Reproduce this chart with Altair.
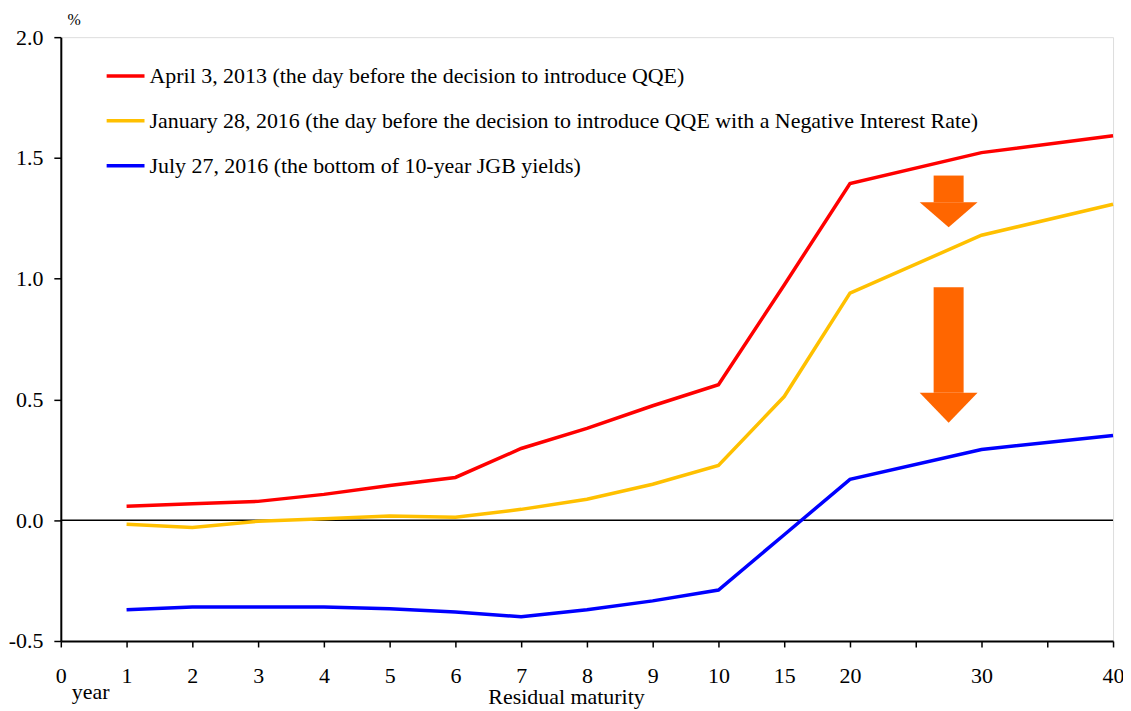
import altair as alt
import pandas as pd

maturity = [1, 2, 3, 4, 5, 6, 7, 8, 9, 10, 15, 20, 30, 40]
apr2013 = [0.058, 0.068, 0.078, 0.107, 0.144, 0.177, 0.297, 0.380, 0.474, 0.561, 0.974, 1.394, 1.522, 1.592]
jan2016 = [-0.017, -0.030, -0.004, 0.006, 0.017, 0.012, 0.045, 0.087, 0.149, 0.227, 0.512, 0.940, 1.180, 1.308]
jul2016 = [-0.371, -0.359, -0.359, -0.359, -0.367, -0.380, -0.400, -0.371, -0.334, -0.289, -0.060, 0.169, 0.293, 0.351]

series_names = [
    "April 3, 2013 (the day before the decision to introduce QQE)",
    "January 28, 2016 (the day before the decision to introduce QQE with a Negative Interest Rate)",
    "July 27, 2016 (the bottom of 10-year JGB yields)",
]
series_colors = ["#FF0000", "#FFC000", "#0000FF"]

x_ticks = [0, 1, 2, 3, 4, 5, 6, 7, 8, 9, 10, 15, 20, 25, 30, 35, 40]
y_ticks = [-0.5, 0.0, 0.5, 1.0, 1.5, 2.0]

# arrows (annotation): center x, top of shaft, bottom of shaft, tip
arrow_x = [27.5, 27.5]
arrow_top = [1.427, 0.965]
arrow_neck = [1.316, 0.528]
arrow_tip = [1.213, 0.404]
shaft_half = 1.14
head_half = 2.2

FONT = "Liberation Serif"
FS = 22
W, H = 1056, 606

rows = []
for name, vals in zip(series_names, [apr2013, jan2016, jul2016]):
    for m, v in zip(maturity, vals):
        rows.append({"maturity": m, "yield": v, "series": name})
df = pd.DataFrame(rows)

xscale = alt.Scale(domain=[0, 10, 20, 40], range=[0, 660, 792, 1056], nice=False, zero=False)
yscale = alt.Scale(domain=[-0.5, 2.0], nice=False, zero=False)

x_axis = alt.Axis(
    values=x_ticks, labelExpr="(datum.value == 25 || datum.value == 35) ? '' : datum.label",
    grid=False, domainColor="black", domainWidth=2, tickColor="black", tickSize=6, tickWidth=1.5,
    labelFont=FONT, labelFontSize=FS, labelColor="black", labelPadding=19, labelFlush=False,
    labelOverlap=False,
    title="Residual maturity", titleFont=FONT, titleFontSize=FS, titleFontWeight="normal",
    titleColor="black", titleX=507, titleY=56, titleAlign="center", titleBaseline="middle",
)
y_axis = alt.Axis(
    values=y_ticks,
    labelExpr="datum.value < 0 ? '-' + format(-datum.value, '.1f') : format(datum.value, '.1f')",
    grid=False, domainColor="black", domainWidth=2, labelFlush=False,
    tickColor="black", tickSize=7, tickWidth=1.5, labelFont=FONT, labelFontSize=FS, labelColor="black",
    labelPadding=11, title="%", titleAngle=0, titleFont=FONT, titleFontSize=16,
    titleFontWeight="normal", titleColor="black", titleX=13, titleY=-18,
    titleAlign="center", titleBaseline="middle",
)

lines = alt.Chart(df).mark_line(strokeWidth=3.5).encode(
    x=alt.X("maturity:Q", scale=xscale, axis=x_axis),
    y=alt.Y("yield:Q", scale=yscale, axis=y_axis),
    color=alt.Color(
        "series:N",
        scale=alt.Scale(domain=series_names, range=series_colors),
        sort=series_names,
        legend=alt.Legend(
            title=None, orient="none", legendX=44, legendY=18, padding=0,
            symbolType="stroke", symbolSize=1444, symbolStrokeWidth=3.5,
            labelFont=FONT, labelFontSize=FS, labelColor="black", labelOffset=3,
            labelLimit=2000, rowPadding=13,
        ),
    ),
    order=alt.Order("maturity:Q"),
)

zero = alt.Chart(pd.DataFrame({"y": [0.0]})).mark_rule(color="black", strokeWidth=1.5).encode(
    y=alt.Y("y:Q", scale=yscale)
)

arr = pd.DataFrame({"x": arrow_x, "top": arrow_top, "neck": arrow_neck, "tip": arrow_tip})
arr["xl"] = arr["x"] - shaft_half
arr["xr"] = arr["x"] + shaft_half
shafts = alt.Chart(arr).mark_rect(color="#FF6600").encode(
    x=alt.X("xl:Q", scale=xscale), x2="xr:Q",
    y=alt.Y("top:Q", scale=yscale), y2="neck:Q",
)

head_rows = []
for i, (cx, nk, tp) in enumerate(zip(arrow_x, arrow_neck, arrow_tip)):
    head_rows.append({"id": i, "x": cx - head_half, "y": nk, "y2": nk})
    head_rows.append({"id": i, "x": cx, "y": nk, "y2": tp})
    head_rows.append({"id": i, "x": cx + head_half, "y": nk, "y2": nk})
heads = alt.Chart(pd.DataFrame(head_rows)).mark_area(color="#FF6600", opacity=1).encode(
    x=alt.X("x:Q", scale=xscale),
    y=alt.Y("y:Q", scale=yscale), y2="y2:Q",
    detail="id:N",
)

year_lbl = alt.Chart(pd.DataFrame({"t": ["year"]})).mark_text(
    font=FONT, fontSize=FS, color="black", align="center", baseline="middle"
).encode(text="t:N", x=alt.value(30), y=alt.value(657))

chart = alt.layer(zero, lines, shafts, heads, year_lbl).properties(
    width=W, height=H,
    autosize=alt.AutoSizeParams(type="none"),
    padding={"left": 53, "top": 28, "right": 10, "bottom": 68},
).configure_view(stroke="black", strokeWidth=1.5).configure(background="white")

chart.save("out.html", embed_options={"renderer": "svg", "actions": False})
